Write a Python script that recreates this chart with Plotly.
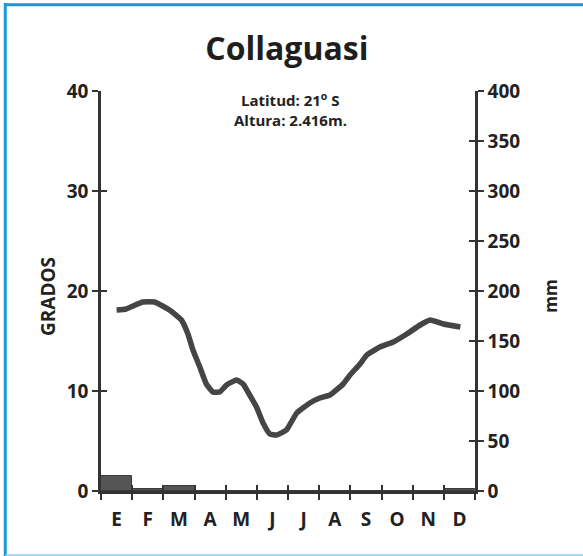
import plotly.graph_objects as go

month_labels = ["E", "F", "M", "A", "M", "J", "J", "A", "S", "O", "N", "D"]
precip_mm = [15, 2, 5, 0, 0, 0, 0, 0, 0, 0, 0, 2.5]

# temperature curve sampled along the month axis (0 = centre of E)
temp_pos = [0.0, 0.31, 0.84, 1.22, 1.70, 2.08, 2.29, 2.45, 2.67, 2.88, 3.09, 3.31,
            3.53, 3.85, 4.06, 4.27, 4.49, 4.70, 4.92, 5.13, 5.45, 5.78, 6.20, 6.52,
            6.85, 7.27, 7.49, 7.81, 8.03, 8.45, 8.88, 9.31, 9.74, 10.06, 10.49, 11.03]
temp_c = [18.1, 18.2, 18.9, 18.9, 18.1, 17.1, 15.7, 14.1, 12.4, 10.7, 9.9, 9.9,
          10.6, 11.1, 10.7, 9.6, 8.4, 6.8, 5.7, 5.6, 6.1, 7.8, 8.8, 9.3,
          9.6, 10.7, 11.6, 12.7, 13.6, 14.4, 14.9, 15.7, 16.6, 17.1, 16.7, 16.4]

left_ticks = [0, 10, 20, 30, 40]
right_ticks = [0, 50, 100, 150, 200, 250, 300, 350, 400]

AX = "#333333"
FONT = "Open Sans"
TXT = "#222222"

month_idx = list(range(len(month_labels)))
boundaries = [i - 0.5 for i in range(len(month_labels) + 1)]
mm_per_deg = right_ticks[-1] / left_ticks[-1]

fig = go.Figure()
fig.add_trace(go.Bar(x=month_idx, y=[p / mm_per_deg for p in precip_mm], xaxis="x", yaxis="y",
                     width=1, marker=dict(color="#555555", line=dict(color="#3a3a3a", width=1)),
                     showlegend=False, hoverinfo="skip"))
fig.add_trace(go.Scatter(x=temp_pos, y=temp_c, xaxis="x", yaxis="y", mode="lines",
                         line=dict(color="#454545", width=5.5, shape="spline", smoothing=0.4),
                         showlegend=False, hoverinfo="skip"))
# empty helper traces so that every overlay axis gets drawn
for xa, ya in [("x2", "y"), ("x3", "y"), ("x", "y2"), ("x", "y3"), ("x", "y4")]:
    fig.add_trace(go.Scatter(x=[None], y=[None], xaxis=xa, yaxis=ya, mode="lines",
                             showlegend=False, hoverinfo="skip"))

tk = dict(tickcolor=AX, tickwidth=2, ticklen=6)
xr = [-0.5, 11.5]
fig.update_layout(
    width=583, height=556,
    margin=dict(l=101, r=108, t=91, b=65),
    paper_bgcolor="white", plot_bgcolor="white",
    font=dict(family=FONT, color=TXT),
    title=dict(text="<b>Collaguasi</b>", x=0.497, xref="paper", xanchor="center",
               y=0.913, yanchor="middle", font=dict(size=32, family=FONT, color="#1e1e1e")),
    bargap=0,
    # main x axis: boundary ticks (outside), no labels
    xaxis=dict(range=xr, tickmode="array", tickvals=boundaries, ticks="outside", **tk,
               showticklabels=False, showline=True, linecolor=AX, linewidth=2.5,
               showgrid=False, zeroline=False),
    # overlay: boundary ticks inside
    xaxis2=dict(overlaying="x", range=xr, tickmode="array", tickvals=boundaries,
                ticks="inside", **tk, showticklabels=False, showgrid=False,
                zeroline=False, showline=False, anchor="y"),
    # overlay: month labels at centres
    xaxis3=dict(overlaying="x", range=xr, tickmode="array", tickvals=month_idx,
                ticktext=["<b>%s</b>" % m for m in month_labels], ticks="",
                ticklabelstandoff=15, tickfont=dict(size=19, color=TXT),
                showgrid=False, zeroline=False, showline=False, anchor="y"),
    yaxis=dict(range=[0, 40], tickmode="array", tickvals=left_ticks,
               ticktext=["<b>%d</b>" % v for v in left_ticks],
               ticks="outside", **tk, showline=True, linecolor=AX, linewidth=2.5,
               showgrid=False, zeroline=False, tickfont=dict(size=19, color=TXT)),
    yaxis2=dict(range=[0, 400], overlaying="y", side="right", anchor="x",
                tickmode="array", tickvals=right_ticks,
                ticktext=["<b>%d</b>" % v for v in right_ticks],
                ticks="outside", **tk, showline=True, linecolor=AX, linewidth=2.5,
                showgrid=False, zeroline=False, tickfont=dict(size=19, color=TXT)),
    yaxis3=dict(range=[0, 40], overlaying="y", side="left", anchor="x",
                tickmode="array", tickvals=left_ticks, ticks="inside", **tk,
                showticklabels=False, showgrid=False, zeroline=False, showline=False),
    yaxis4=dict(range=[0, 400], overlaying="y", side="right", anchor="x",
                tickmode="array", tickvals=right_ticks, ticks="inside", **tk,
                showticklabels=False, showgrid=False, zeroline=False, showline=False),
)

# axis titles
fig.add_annotation(text="<b>GRADOS</b>", textangle=-90, xref="paper", yref="paper",
                   x=-0.1417, y=0.485, xanchor="center", yanchor="middle", showarrow=False,
                   font=dict(size=19, color=TXT, family=FONT))
fig.add_annotation(text="<b>mm</b>", textangle=-90, xref="paper", yref="paper",
                   x=1.2, y=0.4875, xanchor="center", yanchor="middle", showarrow=False,
                   font=dict(size=17, color=TXT, family=FONT))

fig.add_annotation(text="<b>Latitud: 21<sup>o</sup> S</b>",
                   xref="paper", yref="paper", x=0.508, y=0.98, xanchor="center", yanchor="middle",
                   showarrow=False, font=dict(size=15, color=TXT, family=FONT))
fig.add_annotation(text="<b>Altura: 2.416m.</b>",
                   xref="paper", yref="paper", x=0.508, y=0.927, xanchor="center", yanchor="middle",
                   showarrow=False, font=dict(size=15, color=TXT, family=FONT))

# frame around the figure
BLUE = "#1b98d5"
fig.add_shape(type="line", xref="paper", yref="paper", x0=-0.256, x1=1.3, y0=1.2155, y1=1.2155,
              line=dict(color=BLUE, width=3))
fig.add_shape(type="line", xref="paper", yref="paper", x0=-0.256, x1=-0.256, y0=1.22, y1=-0.165,
              line=dict(color=BLUE, width=3))
fig.add_shape(type="line", xref="paper", yref="paper", x0=-0.256, x1=1.3, y0=-0.16, y1=-0.16,
              line=dict(color="#8fcdea", width=1.5))

fig.write_html("out.html", config={"displayModeBar": False},
               post_script="document.body.style.margin='0px';")
